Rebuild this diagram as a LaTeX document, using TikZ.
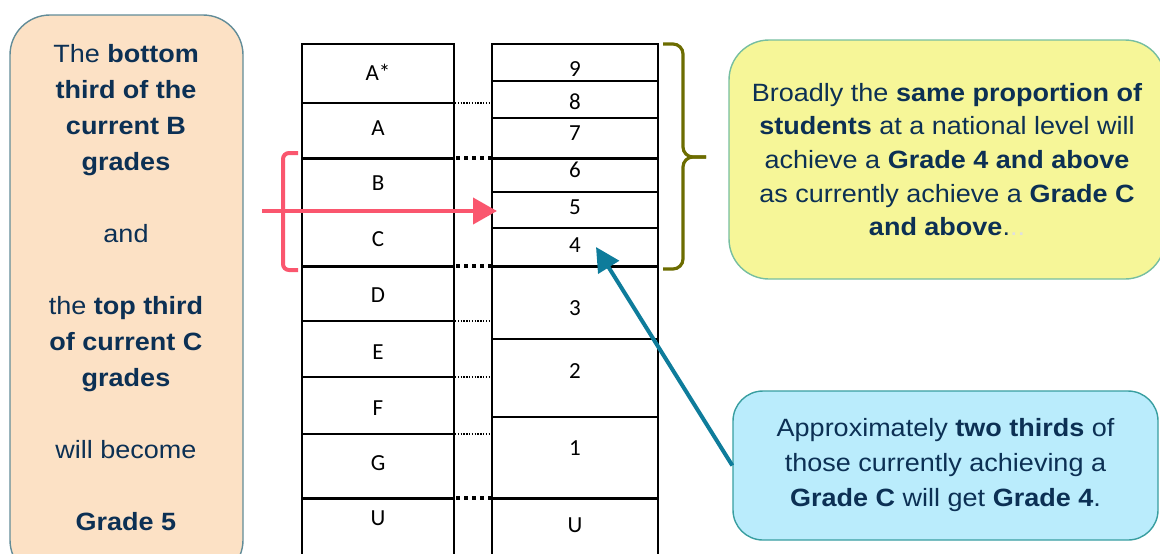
\documentclass[tikz,border=0pt]{standalone}
\usepackage{fontspec}
\setmainfont{Liberation Sans}[FakeStretch=1.08]
\newfontfamily\tablefont{Carlito}
\usepackage{tikz}
\usetikzlibrary{arrows.meta,positioning,calc}

\definecolor{navytext}{RGB}{12,48,84}
\definecolor{peachfill}{RGB}{252,225,197}
\definecolor{peachline}{RGB}{98,140,152}
\definecolor{yellowfill}{RGB}{246,246,152}
\definecolor{yellowline}{RGB}{118,190,160}
\definecolor{cyanfill}{RGB}{186,236,252}
\definecolor{cyanline}{RGB}{56,158,160}
\definecolor{gradered}{RGB}{250,86,110}
\definecolor{braceolive}{RGB}{108,108,0}
\definecolor{arrowteal}{RGB}{14,124,155}

\tikzset{
  notebox/.style={rounded corners=20pt, line width=0.7pt, inner sep=0pt},
  notetext/.style={text=navytext, align=center, font=\fontsize{12.5}{#1}\selectfont},
  gradelabel/.style={font=\tablefont\fontsize{11.5}{13}\selectfont, inner sep=1pt},
  thinrule/.style={line width=0.8pt},
  thickrule/.style={line width=1.5pt},
  thindots/.style={line width=0.7pt, dash pattern=on 0.7pt off 0.7pt},
  thickdots/.style={line width=1.6pt, dash pattern=on 2pt off 2pt}
}

\begin{document}
\begin{tikzpicture}[x=0.5pt, y=-0.5pt]
  \useasboundingbox (0,0) rectangle (1160,553);

  % left note
  \node[notebox, draw=peachline, fill=peachfill, minimum width=116.5pt, minimum height=282.5pt] (leftbox) at (126.5,297.5) {};
  \node[notetext=18pt] (lefttext) at (126,288) {The \textbf{bottom}\\ \textbf{third of the}\\ \textbf{current B}\\ \textbf{grades}\\[18pt]
    and\\[18pt] the \textbf{top third}\\ \textbf{of current C}\\ \textbf{grades}\\[18pt] will become\\[18pt] \textbf{Grade 5}};

  % old grades column
  \draw[thinrule] (302,44) rectangle (454,580);
  \foreach \y in {103, 321, 377, 434} \draw[thinrule] (302,\y) -- (454,\y);
  \foreach \y in {158, 266, 498} \draw[thickrule] (302,\y) -- (454,\y);
  \foreach \g/\y [count=\i] in {A*/72, A/128, B/183, C/239, D/295, E/352, F/408, G/463, U/518}
    \node[gradelabel] (old\i) at (378,\y) {\g};

  % new grades column
  \draw[thinrule] (492,44) rectangle (658,580);
  \foreach \y in {81, 118, 192, 228, 339, 417} \draw[thinrule] (492,\y) -- (658,\y);
  \foreach \y in {158, 266, 498} \draw[thickrule] (492,\y) -- (658,\y);
  \foreach \g/\y in {9/69, 8/102, 7/133, 6/170, 5/207, 4/245, 3/308, 2/371, 1/448, U/525}
    \node[gradelabel] (new\g) at (575,\y) {\g};

  % dotted links between the columns
  \foreach \y in {103, 321, 377, 434} \draw[thindots] (455,\y) -- (491,\y);
  \foreach \y in {158, 266, 498} \draw[thickdots] (456,\y) -- (491,\y);

  % bracket and arrow for B and C
  \draw[gradered, line width=2pt, rounded corners=3pt] (298,153) -- (283,153) -- (283,270) -- (298,270);
  \coordinate (redtail) at (262,211);
  \coordinate (redtip) at (497,211);
  \draw[gradered, line width=2pt, -{Triangle[length=12pt, width=13pt]}] (redtail) -- (redtip);

  % brace over 4 to 9
  \draw[braceolive, line width=1.6pt, rounded corners=5pt] (663,44) -- (683,44) -- (683,157) -- (706,157);
  \draw[braceolive, line width=1.6pt, rounded corners=5pt] (706,157) -- (683,157) -- (683,269) -- (663,269);

  % right notes
  \node[notebox, draw=yellowline, fill=yellowfill, minimum width=218pt, minimum height=119.5pt,
        notetext=16.8pt] (topnote) at (947,159.5)
    {Broadly the \textbf{same proportion of}\\ \textbf{students} at a national level will\\ achieve a \textbf{Grade 4 and above}\\
     as currently achieve a \textbf{Grade C}\\ \textbf{and above}.\textcolor{gray!25}{..}};
  \node[notebox, rounded corners=15pt, draw=cyanline, fill=cyanfill, minimum width=212.5pt, minimum height=74.5pt,
        notetext=17.5pt] (lownote) at (945.5,465.5)
    {Approximately \textbf{two thirds} of\\ those currently achieving a\\ \textbf{Grade C} will get \textbf{Grade 4}.};

  \coordinate (tealtip) at (596,247);
  \draw[arrowteal, line width=2pt, -{Triangle[length=12pt, width=12pt]}] (lownote.west) -- (tealtip);
\end{tikzpicture}
\end{document}
